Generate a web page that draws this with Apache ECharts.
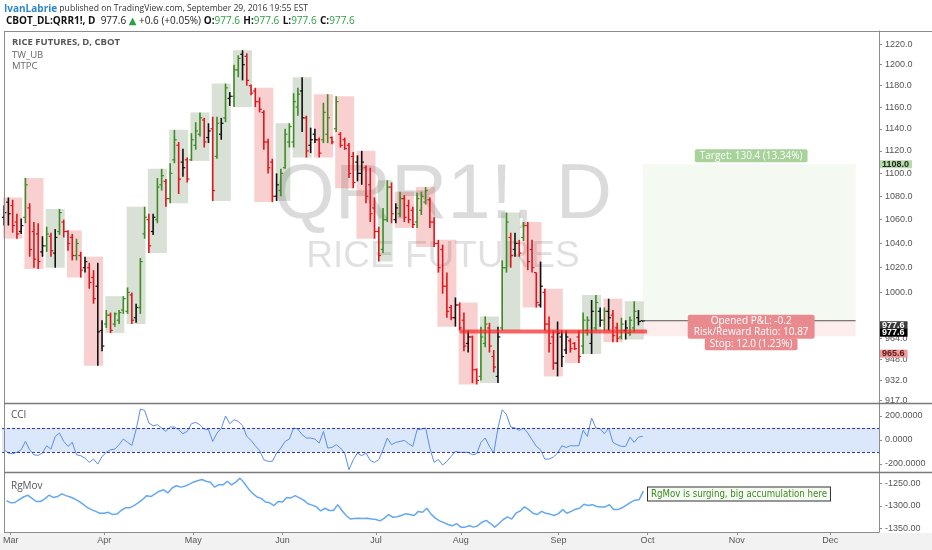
<!DOCTYPE html>
<html><head><meta charset="utf-8">
<script src="https://cdn.jsdelivr.net/npm/echarts@6/dist/echarts.min.js"></script>
<style>html,body{margin:0;padding:0;background:#fff}#c{width:932px;height:550px}</style>
</head><body><div id="c"></div>
<script>
// ---------- DATA ----------
const HOLIDAYS = ['2016-03-25','2016-05-30','2016-07-04','2016-09-05'];
const FIRST_DAY = '2016-02-29';
const N_SLOTS = 206;               // trading-day slots shown on the time axis
const opens = [
 1062,1075,1072,1058,1050, 1062,1070,1050,1048,1033, 1038,1046,1032,1050,1058, 1050,1045,1030,1030,
 1020,1020,1012,1005,970, 975,982,975,978,986, 985,998,980,988,1048, 1060,1050,1060,1090,1093,
 1078,1112,1125,1110,1112, 1112,1125,1135,1148,1132, 1140,1115,1135,1150,1168, 1170,1195,1210,1208,1180,
 1175,1165,1155,1128,1110, 1080,1085,1105,1128, 1128,1160,1175,1150,1125, 1135,1130,1130,1135,1132,
 1140,1135,1130,1125,1115, 1110,1100,1105,1090,1070, 1050,1035,1060,1088, 1060,1065,1078,1072,1068,
 1058,1068,1075,1077,1058, 1040,1035,1005,988,980, 990,978,960,965,940, 935,960,972,950,935,
 972,1020,1045,1035,1040, 1045,1055,1035,1016,990, 1000,975,965,945,965, 955,962,960,965,
 958,970,960,972,985, 978,985,982,972,965, 970,968,972,980,977.6];
const highs = [
 1072,1079,1077,1065,1061, 1096,1074,1058,1057,1046, 1054,1049,1052,1069,1060, 1051,1048,1044,1033,
 1029,1024,1018,1024,978, 986,984,984,986,997, 1004,1000,991,1028,1071, 1065,1065,1096,1104,1095,
 1109,1139,1128,1122,1114, 1136,1146,1155,1150,1145, 1151,1151,1150,1182,1174, 1200,1209,1214,1211,1181,
 1178,1169,1157,1131,1113, 1100,1104,1140,1145, 1173,1178,1188,1152,1141, 1140,1132,1164,1172,1133,
 1170,1137,1132,1127,1119, 1116,1120,1107,1105,1079, 1054,1070,1094,1092, 1074,1084,1081,1077,1071,
 1083,1084,1088,1079,1062, 1043,1039,1016,990,996, 992,984,970,966,941, 973,981,976,955,973,
 1026,1066,1049,1049,1043, 1058,1058,1043,1016,1025, 1003,981,970,977,970, 970,964,961,970,
 984,981,994,998,988, 988,995,986,976,980, 978,981,993,986,977.6];
const lows = [
 1055,1055,1049,1044,1048, 1057,1029,1020,1019,1029, 1033,1029,1020,1047,1045, 1034,1026,1026,1012,
 1016,1003,991,943,954, 972,968,973,975,983, 983,975,976,983,1044, 1032,1047,1057,1085,1071,
 1074,1109,1082,1097,1092, 1111,1121,1133,1123,1127, 1076,1113,1130,1146,1161, 1160,1188,1185,1180,1171,
 1160,1155,1121,1100,1075, 1076,1080,1104,1123, 1123,1152,1137,1114,1118, 1127,1114,1127,1127,1126,
 1137,1123,1121,1096,1087, 1093,1090,1074,1058,1044, 1025,1032,1058,1057, 1057,1062,1058,1057,1053,
 1053,1064,1073,1053,1037, 1016,999,980,978,973, 970,954,953,930,929, 932,957,953,938,930,
 970,1016,1020,1029,1029, 1042,1018,1016,988,988, 970,953,940,935,942, 952,953,955,945,
 952,966,952,970,973, 970,970,961,961,963, 963,966,969,974,977.6];
const closes = [
 1066,1065,1055,1048,1055, 1090,1035,1027,1025,1038, 1048,1034,1045,1066,1050, 1040,1030,1040,1018,
 1025,1008,995,969,958, 982,970,983,984,995, 1000,978,988,1025,1062, 1038,1062,1088,1098,1078,
 1100,1130,1095,1105,1095, 1130,1138,1150,1128,1138, 1085,1145,1145,1178,1170, 1195,1206,1200,1185,1173,
 1165,1158,1128,1105,1080, 1090,1100,1135,1142, 1165,1172,1150,1120,1130, 1130,1118,1155,1150,1128,
 1165,1125,1122,1100,1092, 1100,1110,1080,1065,1050, 1030,1060,1088,1065, 1070,1078,1062,1060,1056,
 1078,1080,1085,1058,1040, 1020,1005,985,980,990, 972,958,965,940,932, 965,975,958,942,965,
 1020,1058,1030,1040,1032, 1055,1025,1020,992,1005, 975,960,945,968,950, 965,956,956,950,
 978,978,985,992,978, 985,980,966,964,975, 972,978,985,977,977.6];
// bar colour per day: g = green, r = red, k = black
const tones = ('kkrrk grrrk grkgr rrgr krrkk grggg grkgg rkggr ggrkr gggrk rgkgk ggkrr rrrrr kggg ' +
  'ggkrk krggr grrrr kkrrr rggr kgrrr gggrr rrrrk rrkrr ggrrk ggrkr grrrk rrrkk krrr ggkgk gkrrg kggkk').replace(/ /g,'');
const cci = [
 -81,-109,-115,-103,-81,-12,-81,-123,-128,-109,-48,-76,30,58,-12,-53,-20,-123,-131,-151,
 -187,-159,-201,-137,-103,-81,-76,-39,8,-20,-45,86,258,247,141,119,127,100,72,108,
 108,86,52,72,136,147,127,91,86,-12,58,95,200,136,169,155,119,30,-3,-48,
 -87,-165,-178,-178,-109,-67,-12,8,100,91,44,16,16,8,-26,72,-67,-62,-39,-67,
 -109,-248,-165,-109,-131,-109,-170,-187,-164,-81,16,-39,-20,-12,-3,-31,-53,86,91,100,
 -67,-187,-162,-209,-178,-137,-95,-103,-103,-103,-123,-115,-20,16,-53,-109,100,252,211,108,
 100,80,100,58,2,-53,-81,-159,-159,-142,-109,-48,-62,-48,-48,-48,80,30,183,100,
 94,52,100,-20,-39,-53,-53,24,-20,24,30];
const rgmov = [
 -1288,-1293,-1292,-1286,-1280,-1276,-1283,-1290,-1290,-1284,-1276,-1281,-1279,-1273,-1277,-1280,-1284,-1289,-1296,-1303,
 -1308,-1312,-1316,-1316,-1314,-1319,-1318,-1310,-1304,-1304,-1299,-1293,-1286,-1277,-1279,-1273,-1267,-1264,-1271,-1260,
 -1255,-1258,-1256,-1252,-1247,-1244,-1241,-1245,-1247,-1258,-1253,-1253,-1245,-1253,-1247,-1238,-1249,-1262,-1272,-1280,
 -1283,-1291,-1293,-1299,-1290,-1291,-1281,-1282,-1277,-1282,-1287,-1295,-1298,-1302,-1311,-1305,-1310,-1310,-1297,-1310,
 -1321,-1329,-1328,-1327,-1328,-1327,-1329,-1330,-1333,-1327,-1319,-1325,-1324,-1321,-1317,-1319,-1321,-1312,-1314,-1305,
 -1318,-1327,-1333,-1337,-1341,-1344,-1339,-1347,-1347,-1344,-1347,-1344,-1336,-1332,-1339,-1347,-1339,-1330,-1324,-1329,
 -1316,-1311,-1302,-1308,-1316,-1319,-1312,-1316,-1318,-1321,-1317,-1308,-1316,-1312,-1307,-1305,-1296,-1299,-1297,-1301,
 -1302,-1302,-1297,-1308,-1308,-1304,-1298,-1292,-1287,-1286,-1267];
const priceTicks = [1220,1200,1180,1160,1140,1120,1100,1080,1060,1040,1020,1000,964,948,932,917];
const cciTicks = [200,0,-200];
const rgTicks = [-1250,-1300,-1350];
const priceRange = [915.3, 1232.8];
const cciRange = [-266.7, 308.3];
const rgRange = [-1357.8, -1224.4];
const cciBand = [-100, 100];
// header change as printed on the chart
const changeAbs = 0.6, changePct = 0.05;
// long position tool
const posStart = 150, posEnd = 200, entry = 977.6, target = 1108.0, stop = 965.6, openedPL = -0.2;
// horizontal support line
const supportLevel = 969.2, supportStart = 107, supportEnd = 151;
const monthNames = ['Jan','Feb','Mar','Apr','May','Jun','Jul','Aug','Sep','Oct','Nov','Dec'];

// ---------- BUILD ----------
const dates = [];
for (let t = Date.parse(FIRST_DAY + 'T00:00:00Z'); dates.length < N_SLOTS; t += 86400000) {
  const d = new Date(t), wd = d.getUTCDay(), s = d.toISOString().slice(0, 10);
  if (wd === 0 || wd === 6 || HOLIDAYS.includes(s)) continue;
  dates.push(s);
}
const isMonthStart = (i) => i > 0 && dates[i].slice(5, 7) !== dates[i - 1].slice(5, 7);
const L = Math.log;

// weekly range boxes from the daily bars
const weeks = [];
for (let i = 0; i < closes.length; i++) {
  const d = new Date(dates[i] + 'T00:00:00Z');
  const mon = new Date(d.getTime() - ((d.getUTCDay() + 6) % 7) * 86400000).toISOString().slice(0, 10);
  let w = weeks[weeks.length - 1];
  if (!w || w.key !== mon) { w = {key: mon, s: i, e: i, hi: -Infinity, lo: Infinity, o: opens[i], c: closes[i]}; weeks.push(w); }
  w.e = i; w.hi = Math.max(w.hi, highs[i]); w.lo = Math.min(w.lo, lows[i]); w.c = closes[i];
}
const boxData = weeks.map(w => [w.s, w.e, L(w.hi), L(w.lo), w.c >= w.o ? 1 : 0]);
const barData = closes.map((c, i) => [i, L(opens[i]), L(highs[i]), L(lows[i]), L(c)]);
const toneColor = {g: '#3f8a25', r: '#e0151b', k: '#111111'};

const FONT = '"Open Sans", "DejaVu Sans", sans-serif';
const AFONT = '"Liberation Sans", Arial, sans-serif';

function renderBox(params, api) {
  const p1 = api.coord([api.value(0), api.value(2)]);
  const p2 = api.coord([api.value(1), api.value(3)]);
  return {type: 'rect', shape: {x: p1[0] - 1, y: p1[1], width: p2[0] - p1[0] + 2, height: p2[1] - p1[1]},
    style: {fill: api.value(4) ? 'rgba(80,120,70,0.22)' : 'rgba(232,60,60,0.24)'}};
}
function renderBar(params, api) {
  const i = api.value(0);
  const o = api.coord([i, api.value(1)]), h = api.coord([i, api.value(2)]);
  const l = api.coord([i, api.value(3)]), c = api.coord([i, api.value(4)]);
  const col = toneColor[tones[params.dataIndex]];
  const x = h[0];
  const len = Math.max(l[1] - h[1], 1);
  return {type: 'group', children: [
    {type: 'line', shape: {x1: x, y1: h[1], x2: x, y2: h[1] + len}, style: {stroke: col, lineWidth: 1.6}},
    {type: 'line', shape: {x1: x - 2.3, y1: o[1], x2: x, y2: o[1]}, style: {stroke: col, lineWidth: 1.2}},
    {type: 'line', shape: {x1: x, y1: c[1], x2: x + 2.3, y2: c[1]}, style: {stroke: col, lineWidth: 1.2}}
  ]};
}
function renderSupport(params, api) {
  const a = api.coord([api.value(0), api.value(2)]), b = api.coord([api.value(1), api.value(2)]);
  return {type: 'line', shape: {x1: a[0], y1: a[1], x2: b[0], y2: b[1]}, style: {stroke: 'rgba(244,40,40,0.72)', lineWidth: 4}};
}
function badge(x, y, text, bg, fg) {
  return {type: 'text', style: {text, x, y, align: 'left', verticalAlign: 'middle', fill: fg, backgroundColor: bg,
    padding: [0, 3, 0, 2], fontSize: 9, fontWeight: 'bold', fontFamily: AFONT, lineHeight: 8}};
}
function renderPosition(params, api) {
  const s = api.value(0), e = api.value(1);
  const pE = api.coord([s, api.value(2)]), pT = api.coord([e, api.value(3)]), pS = api.coord([e, api.value(4)]);
  const x1 = pE[0], x2 = pT[0], cx = (x1 + x2) / 2 + 2;
  const axisX = params.coordSys.x + params.coordSys.width;
  const reward = target - entry, risk = entry - stop;
  return {type: 'group', children: [
    {type: 'rect', shape: {x: x1, y: pT[1], width: x2 - x1, height: pE[1] - pT[1]}, style: {fill: 'rgba(100,170,70,0.07)'}},
    {type: 'rect', shape: {x: x1, y: pE[1], width: x2 - x1, height: pS[1] - pE[1]}, style: {fill: 'rgba(240,80,80,0.10)'}},
    {type: 'line', shape: {x1: x1, y1: pE[1], x2: x2, y2: pE[1]}, style: {stroke: '#555', lineWidth: 1}},
    {type: 'text', style: {text: 'Target: ' + reward.toFixed(1) + ' (' + (reward / entry * 100).toFixed(2) + '%)',
      x: cx, y: pT[1] - 2, align: 'center', verticalAlign: 'bottom', fill: '#fff', backgroundColor: '#a7d29a',
      padding: [2, 5, 1, 5], borderRadius: 2, fontSize: 10, fontFamily: FONT}},
    {type: 'text', style: {text: 'Opened P&L: ' + openedPL.toFixed(1) + '\nRisk/Reward Ratio: ' + (reward / risk).toFixed(2),
      x: cx, y: pE[1] - 6, align: 'center', verticalAlign: 'top', fill: '#fff', backgroundColor: '#e98a8f',
      padding: [1, 6, 1, 6], borderRadius: 2, fontSize: 10, lineHeight: 11, fontFamily: FONT}},
    {type: 'text', style: {text: 'Stop: ' + risk.toFixed(1) + ' (' + (risk / entry * 100).toFixed(2) + '%)',
      x: cx, y: pS[1] + 2, align: 'center', verticalAlign: 'top', fill: '#fff', backgroundColor: '#e98a8f',
      padding: [1, 5, 1, 5], borderRadius: 2, fontSize: 10, fontFamily: FONT}},
    badge(axisX + 1, pT[1], target.toFixed(1), '#b7dcaa', '#222'),
    badge(axisX + 1, pE[1] + 4.5, closes[closes.length - 1].toFixed(1), '#3b3b3b', '#fff'),
    badge(axisX + 1, pE[1] + 12, entry.toFixed(1), '#000', '#fff'),
    badge(axisX + 1, pS[1] + 17.5, stop.toFixed(1), '#ef9a9a', '#5a1515')
  ]};
}

const last = closes[closes.length - 1];
const xAxes = [0, 1, 2].map(k => ({
  type: 'category', gridIndex: k, data: dates, boundaryGap: true,
  axisLine: {show: k === 2, lineStyle: {color: '#8c8c8c'}},
  axisTick: {show: k === 2, alignWithLabel: true, interval: isMonthStart, length: 3, lineStyle: {color: '#8c8c8c'}},
  axisLabel: {show: k === 2, interval: isMonthStart, formatter: v => monthNames[+v.slice(5, 7) - 1],
    color: '#555', fontSize: 9, margin: 4, fontFamily: AFONT},
  splitLine: {show: false}
}));
function yAx(k, min, max, vals, fmt) {
  return {type: 'value', gridIndex: k, position: 'right', min, max,
    axisLine: {show: true, lineStyle: {color: '#8c8c8c'}},
    axisTick: {show: true, customValues: vals, length: 3, lineStyle: {color: '#8c8c8c'}},
    axisLabel: {customValues: vals, formatter: fmt, color: '#555', fontSize: 9, margin: 6, fontFamily: AFONT},
    splitLine: {show: false}};
}

const option = {
  animation: false,
  backgroundColor: '#ffffff',
  grid: [
    {left: 2, right: 53, top: 31, height: 372},
    {left: 2, right: 53, top: 403, height: 69},
    {left: 2, right: 53, top: 472, height: 60}
  ],
  xAxis: xAxes,
  yAxis: [
    yAx(0, L(priceRange[0]), L(priceRange[1]), priceTicks.map(L), v => Math.exp(v).toFixed(1)),
    yAx(1, cciRange[0], cciRange[1], cciTicks, v => v.toFixed(4)),
    yAx(2, rgRange[0], rgRange[1], rgTicks, v => v.toFixed(2))
  ],
  graphic: [
    {type: 'rect', shape: {x: 0, y: 533, width: 932, height: 17}, style: {fill: '#f2f2f2'}, z: 0},
    {type: 'text', x: 443, y: 196, style: {text: 'QRR1!, D', align: 'center', verticalAlign: 'middle',
      fill: 'rgba(0,0,0,0.14)', fontSize: 78, fontFamily: AFONT}, z: 0},
    {type: 'text', x: 443, y: 257, style: {text: 'RICE FUTURES', align: 'center', verticalAlign: 'middle',
      fill: 'rgba(0,0,0,0.12)', fontSize: 37, fontFamily: AFONT}, z: 0},
    {type: 'text', x: 4, y: 9, style: {
      text: '{a|IvanLabrie}{b| published on TradingView.com, September 29, 2016 19:55 EST}', verticalAlign: 'middle',
      rich: {a: {fill: '#2f87cc', fontWeight: 'bold', fontSize: 10, fontFamily: FONT},
             b: {fill: '#333', fontSize: 8.6, fontFamily: FONT}}}},
    {type: 'text', x: 6, y: 21, style: {
      text: '{t|CBOT_DL:QRR1!, D}{n|  ' + last.toFixed(1) + ' }{g|\u25B2}{n| +' + changeAbs.toFixed(1) +
        ' (+' + changePct.toFixed(2) + '%) }' +
        '{t|O:}{v|' + opens[opens.length - 1].toFixed(1) + '} {t|H:}{v|' + highs[highs.length - 1].toFixed(1) +
        '} {t|L:}{v|' + lows[lows.length - 1].toFixed(1) + '} {t|C:}{v|' + last.toFixed(1) + '}',
      verticalAlign: 'middle',
      rich: {t: {fill: '#111', fontWeight: 'bold', fontSize: 10, fontFamily: FONT},
             n: {fill: '#222', fontSize: 10, fontFamily: FONT},
             g: {fill: '#2ea043', fontSize: 10, fontFamily: FONT},
             v: {fill: '#2ea043', fontSize: 10, fontFamily: FONT}}}},
    {type: 'text', x: 12, y: 42, style: {text: 'RICE FUTURES, D, CBOT', verticalAlign: 'middle', fill: '#555', fontWeight: 'bold', fontSize: 9.5, fontFamily: FONT}, z: 50},
    {type: 'text', x: 12, y: 55, style: {text: 'TW_UB', verticalAlign: 'middle', fill: '#666', fontSize: 9.5, fontFamily: FONT}, z: 50},
    {type: 'text', x: 12, y: 66, style: {text: 'MTPC', verticalAlign: 'middle', fill: '#666', fontSize: 9.5, fontFamily: FONT}, z: 50},
    {type: 'text', x: 11, y: 415, style: {text: 'CCI', verticalAlign: 'middle', fill: '#555', fontSize: 10, fontFamily: FONT}, z: 50},
    {type: 'text', x: 11, y: 486, style: {text: 'RgMov', verticalAlign: 'middle', fill: '#555', fontSize: 10, fontFamily: FONT}, z: 50},
    {type: 'text', x: 648, y: 494, style: {text: 'RgMov is surging, big accumulation here', verticalAlign: 'middle',
      fill: '#3f8a25', fontSize: 9.6, fontFamily: '"Liberation Sans Narrow", "DejaVu Sans Condensed", sans-serif',
      backgroundColor: '#f6fbf3', borderColor: '#333', borderWidth: 1, padding: [2, 3, 1, 3]}, z: 50},
    {type: 'line', shape: {x1: 4, y1: 31.5, x2: 932, y2: 31.5}, style: {stroke: '#8c8c8c', lineWidth: 1}, z: 100},
    {type: 'line', shape: {x1: 4.5, y1: 31, x2: 4.5, y2: 533}, style: {stroke: '#8c8c8c', lineWidth: 1}, z: 100},
    {type: 'line', shape: {x1: 4, y1: 403.5, x2: 932, y2: 403.5}, style: {stroke: '#7a7a7a', lineWidth: 1.5}, z: 100},
    {type: 'line', shape: {x1: 4, y1: 472.5, x2: 932, y2: 472.5}, style: {stroke: '#7a7a7a', lineWidth: 1.5}, z: 100}
  ],
  series: [
    {type: 'custom', name: 'weekly', xAxisIndex: 0, yAxisIndex: 0, renderItem: renderBox, data: boxData,
      encode: {x: [0, 1], y: [2, 3]}, z: 1, silent: true},
    {type: 'custom', name: 'bars', xAxisIndex: 0, yAxisIndex: 0, renderItem: renderBar, data: barData,
      encode: {x: 0, y: [1, 2, 3, 4]}, z: 3, silent: true},
    {type: 'custom', name: 'support', xAxisIndex: 0, yAxisIndex: 0, renderItem: renderSupport,
      data: [[supportStart, supportEnd, L(supportLevel)]], encode: {x: [0, 1], y: 2}, z: 4, silent: true},
    {type: 'custom', name: 'position', xAxisIndex: 0, yAxisIndex: 0, renderItem: renderPosition,
      data: [[posStart, posEnd, L(entry), L(target), L(stop)]], encode: {x: [0, 1], y: [2, 3, 4]}, z: 5, silent: true},
    {type: 'line', name: 'CCI', xAxisIndex: 1, yAxisIndex: 1, data: cci, symbol: 'none',
      lineStyle: {color: '#5b8ee6', width: 1}, z: 3, silent: true,
      markArea: {silent: true, itemStyle: {color: 'rgba(33,110,230,0.16)'}, data: [[{yAxis: cciBand[0]}, {yAxis: cciBand[1]}]]},
      markLine: {silent: true, symbol: 'none', label: {show: false},
        lineStyle: {color: '#3535b8', type: [3, 2], width: 1}, data: [{yAxis: cciBand[0]}, {yAxis: cciBand[1]}]}},
    {type: 'line', name: 'RgMov', xAxisIndex: 2, yAxisIndex: 2, data: rgmov, symbol: 'none',
      lineStyle: {color: '#64a8ee', width: 1.5}, z: 3, silent: true}
  ]
};
const chart = echarts.init(document.getElementById('c'), null, {renderer: 'canvas'});
chart.setOption(option);
</script>
</body></html>
